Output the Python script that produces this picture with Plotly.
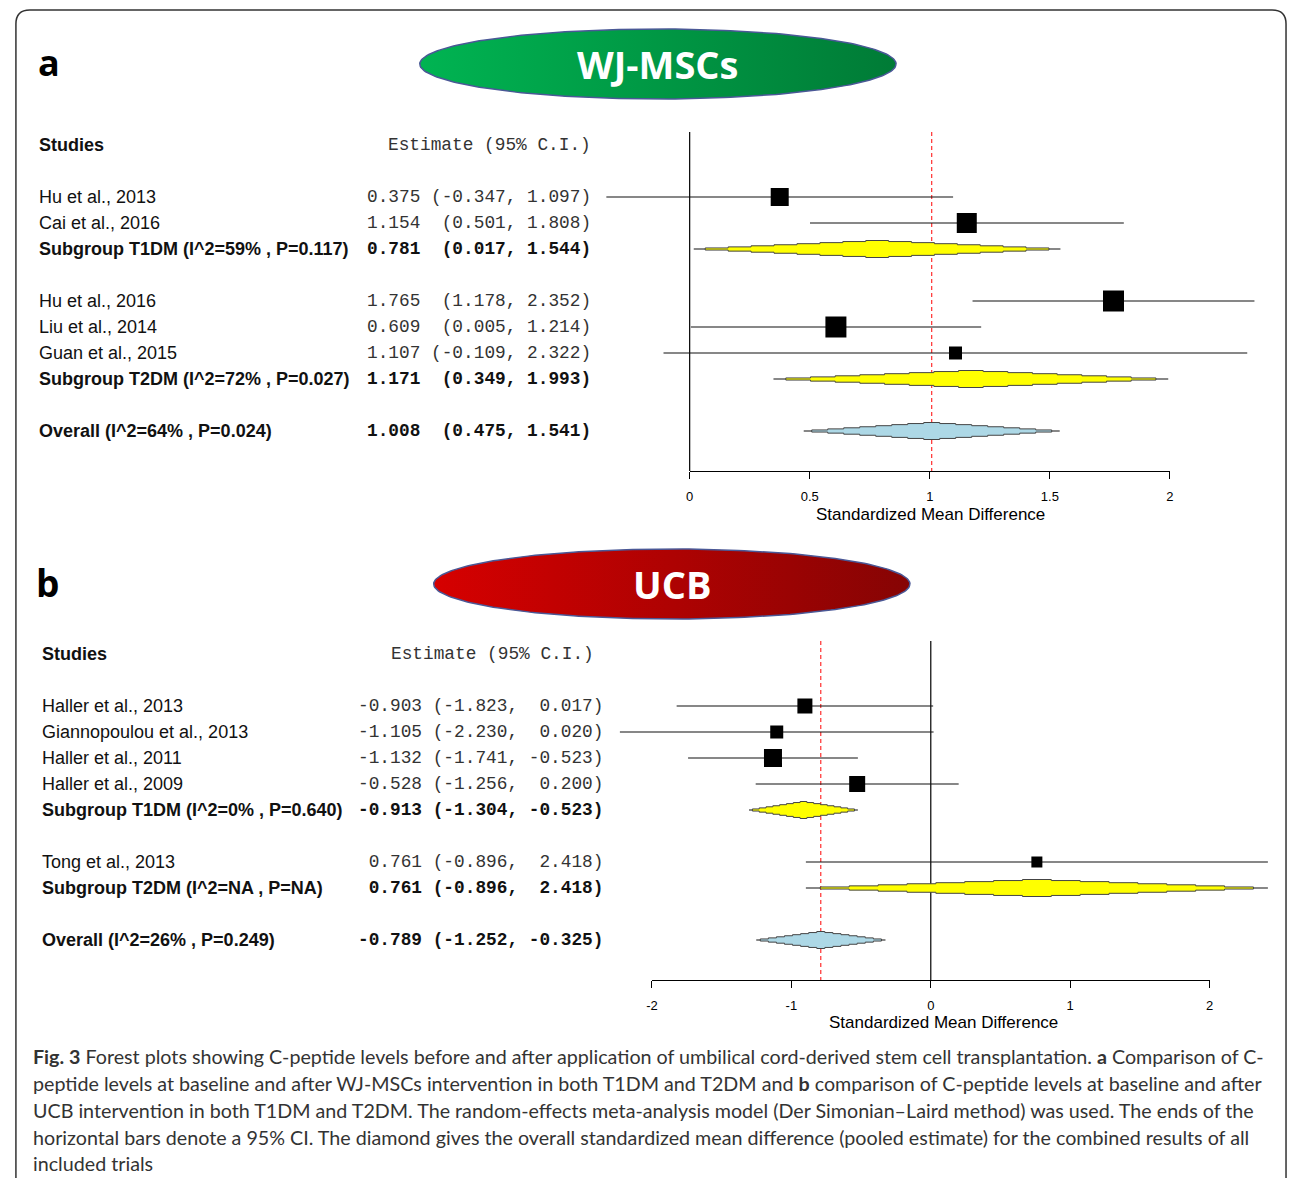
import numpy as np
import plotly.graph_objects as go

W, H = 1292, 1178

# ---------------- data: panel a (WJ-MSCs) ----------------
a_study = ["Hu et al., 2013", "Cai et al., 2016", "Hu et al., 2016", "Liu et al., 2014", "Guan et al., 2015"]
a_est = [0.375, 1.154, 1.765, 0.609, 1.107]
a_lo = [-0.347, 0.501, 1.178, 0.005, -0.109]
a_hi = [1.097, 1.808, 2.352, 1.214, 2.322]
a_row = [2, 3, 6, 7, 8]
a_weight = [18, 20, 21, 21, 13]

a_sum_label = ["Subgroup T1DM (I^2=59% , P=0.117)", "Subgroup T2DM (I^2=72% , P=0.027)",
               "Overall (I^2=64% , P=0.024)"]
a_sum_est = [0.781, 1.171, 1.008]
a_sum_lo = [0.017, 0.349, 0.475]
a_sum_hi = [1.544, 1.993, 1.541]
a_sum_row = [4, 9, 11]
a_ticks = [0, 0.5, 1, 1.5, 2]
a_ticktext = ["0", "0.5", "1", "1.5", "2"]

# ---------------- data: panel b (UCB) ----------------
b_study = ["Haller et al., 2013", "Giannopoulou et al., 2013", "Haller et al., 2011",
           "Haller et al., 2009", "Tong et al., 2013"]
b_est = [-0.903, -1.105, -1.132, -0.528, 0.761]
b_lo = [-1.823, -2.230, -1.741, -1.256, -0.896]
b_hi = [0.017, 0.020, -0.523, 0.200, 2.418]
b_row = [2, 3, 4, 5, 8]
b_weight = [15, 13, 18, 16, 11]

b_sum_label = ["Subgroup T1DM (I^2=0% , P=0.640)", "Subgroup T2DM (I^2=NA , P=NA)",
               "Overall (I^2=26% , P=0.249)"]
b_sum_est = [-0.913, 0.761, -0.789]
b_sum_lo = [-1.304, -0.896, -1.252]
b_sum_hi = [-0.523, 2.418, -0.325]
b_sum_row = [6, 9, 11]
b_ticks = [-2, -1, 0, 1, 2]
b_ticktext = ["-2", "-1", "0", "1", "2"]

caption_lines = [
    "<b>Fig. 3</b> Forest plots showing C-peptide levels before and after application of umbilical cord-derived stem cell transplantation. <b>a</b> Comparison of C-",
    "peptide levels at baseline and after WJ-MSCs intervention in both T1DM and T2DM and <b>b</b> comparison of C-peptide levels at baseline and after",
    "UCB intervention in both T1DM and T2DM. The random-effects meta-analysis model (Der Simonian\u2013Laird method) was used. The ends of the",
    "horizontal bars denote a 95% CI. The diamond gives the overall standardized mean difference (pooled estimate) for the combined results of all",
    "included trials",
]

# ---------------- style / layout constants ----------------
SANS = "Arial, Liberation Sans, sans-serif"
MONO = "Courier New, Liberation Mono, monospace"
ROW_PX = 26.0
PANEL = {
    "a": dict(x0=689.0, scale=242.0, row0=145.0, dom=(592, 1282), ydom=(120, 480),
              axdom=(689, 1173), axy=471, name_x=31, num_x=362, head_x=383,
              title_x=931.5, title_y=514),
    "b": dict(x0=932.0, scale=140.5, row0=654.0, dom=(600, 1280), ydom=(630, 990),
              axdom=(651, 1213), axy=980, name_x=34, num_x=353, head_x=386,
              title_x=945, title_y=1022),
}
LINE_TOP, LINE_BOT = -0.5, 12.54
DIAMOND_H = 8.5 / ROW_PX


def fmt_table(est, lo, hi):
    e = [f"{v:.3f}" for v in est]
    l = ["(" + f"{v:.3f}" for v in lo]
    h = [f"{v:.3f}" for v in hi]
    we, wl, wh = max(map(len, e)), max(map(len, l)), max(map(len, h))
    out = []
    for a, b, c in zip(e, l, h):
        s = f"{a:>{we}} {b:>{wl}}, {c:>{wh}})"
        out.append(s.replace(" ", "\u00a0"))
    return out


def stepped(c, lo, hi, row, h, n=8):
    left, right = c - lo, hi - c
    top = []
    for j in range(n - 1, -1, -1):
        x = c - left * (j + 0.5) / n
        top.append((x, h * (n - j - 1) / n))
        top.append((x, h * (n - j) / n))
    for j in range(n):
        x = c + right * (j + 0.5) / n
        top.append((x, h * (n - j) / n))
        top.append((x, h * (n - j - 1) / n))
    xs = [p[0] for p in top] + [p[0] for p in reversed(top)]
    ys = [row - p[1] for p in top] + [row + p[1] for p in reversed(top)]
    return xs, ys


fig = go.Figure()
annotations = []
layout_axes = {}


def build_panel(key, xa, ya, study, est, lo, hi, row, weight,
                s_label, s_est, s_lo, s_hi, s_row, ticks, ticktext, disp_x, disp_y, ref_line):
    P = PANEL[key]
    xr, yr = xa.replace("axis", ""), ya.replace("axis", "")
    d0, d1 = P["dom"]
    layout_axes[xa] = dict(domain=[d0 / W, d1 / W],
                           range=[(d0 - P["x0"]) / P["scale"], (d1 - P["x0"]) / P["scale"]],
                           visible=False, anchor=yr, fixedrange=True)
    yt, yb = P["ydom"]
    layout_axes[ya] = dict(domain=[1 - yb / H, 1 - yt / H],
                           range=[(yb - P["row0"]) / ROW_PX, (yt - P["row0"]) / ROW_PX],
                           visible=False, anchor=xr, fixedrange=True)
    a0, a1 = P["axdom"]
    dxr, dyr = disp_x.replace("axis", ""), disp_y.replace("axis", "")
    layout_axes[disp_x] = dict(domain=[a0 / W, a1 / W], range=[ticks[0], ticks[-1]],
                               anchor=dyr, showline=True, linecolor="black", linewidth=1.2,
                               ticks="outside", ticklen=7, tickcolor="black", tickwidth=1.2,
                               tickvals=ticks, ticktext=ticktext, showgrid=False, zeroline=False,
                               tickfont=dict(family=SANS, size=13, color="black"),
                               ticklabelstandoff=6, fixedrange=True)
    layout_axes[disp_y] = dict(domain=[1 - P["axy"] / H, 1 - P["axy"] / H + 0.02], range=[0, 1],
                               visible=False, anchor=dxr, fixedrange=True)
    fig.add_trace(go.Scatter(x=[ticks[0]], y=[0.5], mode="markers", marker=dict(opacity=0),
                             xaxis=dxr, yaxis=dyr, hoverinfo="skip"))

    fig.add_trace(go.Scatter(x=[0, 0], y=[LINE_TOP, LINE_BOT], mode="lines",
                             line=dict(color="black", width=1.2), xaxis=xr, yaxis=yr, hoverinfo="skip"))
    fig.add_trace(go.Scatter(x=[ref_line, ref_line], y=[LINE_TOP, LINE_BOT], mode="lines",
                             line=dict(color="#ff1a1a", width=1.1, dash="4px,3px"),
                             xaxis=xr, yaxis=yr, hoverinfo="skip"))
    cx, cy = [], []
    for l, h, r in list(zip(lo, hi, row)) + list(zip(s_lo, s_hi, s_row)):
        cx += [l, h, None]
        cy += [r, r, None]
    fig.add_trace(go.Scatter(x=cx, y=cy, mode="lines", line=dict(color="#111", width=1.2),
                             xaxis=xr, yaxis=yr, hoverinfo="skip"))
    fills = ["#ffff00", "#ffff00", "#add8e6"]
    for i in range(len(s_est)):
        xs, ys = stepped(s_est[i], s_lo[i], s_hi[i], s_row[i], DIAMOND_H)
        fig.add_trace(go.Scatter(x=xs, y=ys, mode="lines", fill="toself", fillcolor=fills[i],
                                 line=dict(color="#444", width=1), xaxis=xr, yaxis=yr,
                                 hoverinfo="skip"))
    fig.add_trace(go.Scatter(x=est, y=row, mode="markers",
                             marker=dict(symbol="square", size=weight, color="#000000",
                                         opacity=1, line=dict(width=0)),
                             xaxis=xr, yaxis=yr, hoverinfo="skip"))

    annotations.append(dict(text="<b>Studies</b>", x=P["name_x"] / W, xref="paper", y=0, yref=yr,
                            xanchor="left", yanchor="middle", showarrow=False,
                            font=dict(family=SANS, size=18, color="#111")))
    annotations.append(dict(text="Estimate\u00a0(95%\u00a0C.I.)", x=P["head_x"] / W, xref="paper",
                            y=0, yref=yr, xanchor="left", yanchor="middle", showarrow=False,
                            font=dict(family=MONO, size=17.8, color="#333")))
    txt = fmt_table(list(est) + list(s_est), list(lo) + list(s_lo), list(hi) + list(s_hi))
    n = len(est)
    for i, (lab, r) in enumerate(list(zip(study, row)) + list(zip(s_label, s_row))):
        bold = i >= n
        annotations.append(dict(text=f"<b>{lab}</b>" if bold else lab, x=P["name_x"] / W,
                                xref="paper", y=r, yref=yr, xanchor="left", yanchor="middle",
                                showarrow=False, font=dict(family=SANS, size=18, color="#111")))
        annotations.append(dict(text=f"<b>{txt[i]}</b>" if bold else txt[i], x=P["num_x"] / W,
                                xref="paper", y=r, yref=yr, xanchor="left", yanchor="middle",
                                showarrow=False,
                                font=dict(family=MONO, size=17.8, color="#111" if bold else "#333")))
    annotations.append(dict(text="Standardized Mean Difference", x=P["title_x"], xref="x5",
                            y=P["title_y"], yref="y5", xanchor="center", yanchor="middle",
                            showarrow=False, font=dict(family=SANS, size=17, color="black")))


build_panel("a", "xaxis", "yaxis", a_study, a_est, a_lo, a_hi, a_row, a_weight,
            a_sum_label, a_sum_est, a_sum_lo, a_sum_hi, a_sum_row, a_ticks, a_ticktext,
            "xaxis3", "yaxis3", a_sum_est[-1])
build_panel("b", "xaxis2", "yaxis2", b_study, b_est, b_lo, b_hi, b_row, b_weight,
            b_sum_label, b_sum_est, b_sum_lo, b_sum_hi, b_sum_row, b_ticks, b_ticktext,
            "xaxis4", "yaxis4", b_sum_est[-1])

layout_axes["xaxis5"] = dict(domain=[0, 1], range=[0, W], visible=False, anchor="y5", fixedrange=True)
layout_axes["yaxis5"] = dict(domain=[0, 1], range=[H, 0], visible=False, anchor="x5", fixedrange=True)

t = np.linspace(0, 2 * np.pi, 240)
for (cx, cy, rx, ry, cs, label) in [
    (657, 64, 240, 35, [[0, "#00b452"], [1, "#007b36"]], "WJ-MSCs"),
    (671, 584, 240, 35, [[0, "#d60000"], [1, "#860404"]], "UCB"),
]:
    fig.add_trace(go.Scatter(x=cx + rx * np.cos(t), y=cy + ry * np.sin(t), mode="lines",
                             fill="toself", fillcolor=cs[0][1],
                             fillgradient=dict(type="horizontal", colorscale=cs),
                             line=dict(color="#4a5896", width=1.5), xaxis="x5", yaxis="y5",
                             hoverinfo="skip"))
    annotations.append(dict(text=f"<b>{label}</b>", x=cx, y=cy, xref="x5", yref="y5",
                            showarrow=False, xanchor="center", yanchor="middle",
                            font=dict(family="Open Sans, sans-serif", size=38, color="white")))

annotations.append(dict(text="<b>a</b>", x=43, y=62, xref="x5", yref="y5", showarrow=False,
                        xanchor="center", yanchor="middle",
                        font=dict(family="Open Sans, sans-serif", size=36, color="black")))
annotations.append(dict(text="<b>b</b>", x=42, y=582, xref="x5", yref="y5", showarrow=False,
                        xanchor="center", yanchor="middle",
                        font=dict(family="Open Sans, sans-serif", size=37, color="black")))

for i, (line, yy) in enumerate(zip(caption_lines, [1056, 1083, 1110, 1137, 1163])):
    annotations.append(dict(text=line, x=25, y=yy, xref="x5", yref="y5", showarrow=False,
                            xanchor="left", yanchor="middle",
                            font=dict(family="Lato, sans-serif", size=19.7, color="#333")))

shapes = [dict(type="path", xref="x5", yref="y5",
               path="M 10,1190 L 10,24 Q 10,10 24,10 L 1276,10 Q 1290,10 1290,24 L 1290,1190",
               line=dict(color="#333", width=1.5), layer="above")]

fig.update_layout(width=W, height=H, margin=dict(l=0, r=0, t=0, b=0),
                  paper_bgcolor="white", plot_bgcolor="rgba(0,0,0,0)", showlegend=False,
                  annotations=annotations, shapes=shapes, **layout_axes)
fig.write_html("out.html", config={"displayModeBar": False},
               post_script="document.body.style.margin='0px';document.body.style.overflow='hidden';")
